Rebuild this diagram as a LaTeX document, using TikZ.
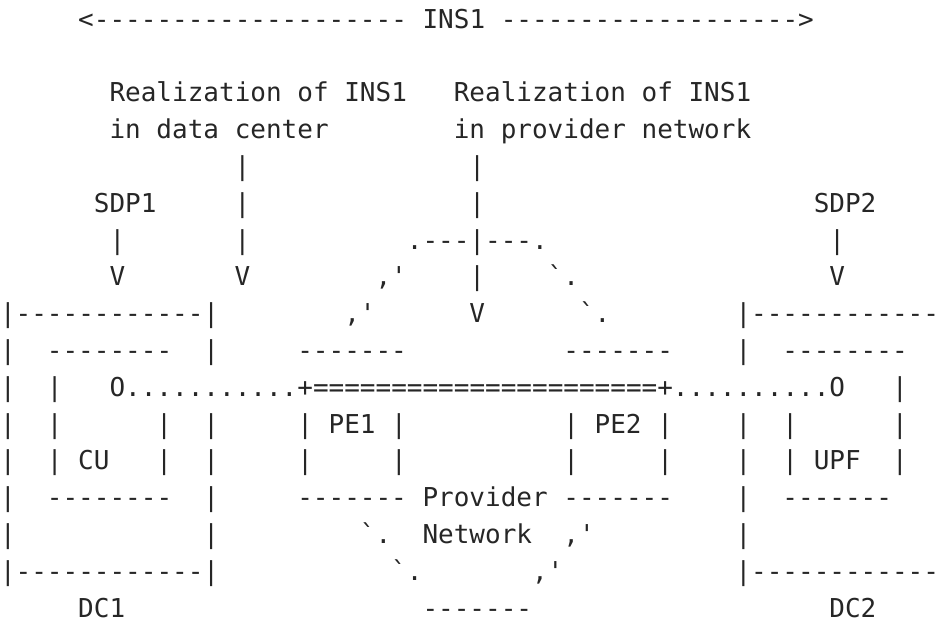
\documentclass[tikz,border=0pt]{standalone}
\usepackage{fontspec}
\setmonofont{DejaVu Sans Mono}
\usetikzlibrary{positioning}
\definecolor{ink}{RGB}{38,38,38}
\tikzset{txt/.style={inner sep=0pt, outer sep=0pt, anchor=base west, text=ink,
	font=\ttfamily\fontsize{13bp}{18.4bp}\selectfont}}
% one piece of the figure: name, column, row, text
\newcommand{\chr}[4]{\node[txt] (#1) at (#2,#3+.77) {#4};}

\begin{document}
\begin{tikzpicture}[x=7.825bp, y=-18.4bp]
	\useasboundingbox (0,0) rectangle (60.26,16.93);
	% slice span
	\chr{ins}{5}{0}{<-------------------- INS1 ------------------->}
	% realization labels
	\chr{realdc}{7}{2}{Realization of INS1}
	\chr{realpn}{29}{2}{Realization of INS1}
	\chr{realdcb}{7}{3}{in data center}
	\chr{realpnb}{29}{3}{in provider network}
	\chr{dcpA}{15}{4}{|}
	\chr{pnpA}{30}{4}{|}
	\chr{sdpa}{6}{5}{SDP1}
	\chr{dcpB}{15}{5}{|}
	\chr{pnpB}{30}{5}{|}
	\chr{sdpb}{52}{5}{SDP2}
	\chr{sdpapA}{7}{6}{|}
	\chr{dcpC}{15}{6}{|}
	\chr{pnarc}{26}{6}{.---|---.}
	\chr{sdpbpA}{53}{6}{|}
	\chr{sdpaV}{7}{7}{V}
	\chr{dcV}{15}{7}{V}
	\chr{pnlA}{24}{7}{,'}
	\chr{pnpC}{30}{7}{|}
	\chr{pnrA}{35}{7}{`.}
	\chr{sdpbV}{53}{7}{V}
	% top edges
	\chr{dcatop}{0}{8}{|------------|}
	\chr{pnlB}{22}{8}{,'}
	\chr{pnV}{30}{8}{V}
	\chr{pnrB}{37}{8}{`.}
	\chr{dcbtop}{47}{8}{|------------}
	% boxes, upper part
	\chr{dcaLA}{0}{9}{|}
	\chr{cutop}{3}{9}{--------}
	\chr{dcaRA}{13}{9}{|}
	\chr{peatop}{19}{9}{-------}
	\chr{pebtop}{36}{9}{-------}
	\chr{dcbLA}{47}{9}{|}
	\chr{upftop}{50}{9}{--------}
	% path between the functions
	\chr{dcaLB}{0}{10}{|}
	\chr{cuLA}{3}{10}{|}
	\chr{link}{7}{10}{O...........+======================+..........O}
	\chr{upfRA}{57}{10}{|}
	\chr{dcaLC}{0}{11}{|}
	\chr{cuLB}{3}{11}{|}
	\chr{cuRA}{10}{11}{|}
	\chr{dcaRB}{13}{11}{|}
	\chr{pea}{19}{11}{| PE1 |}
	\chr{peb}{36}{11}{| PE2 |}
	\chr{dcbLB}{47}{11}{|}
	\chr{upfLA}{50}{11}{|}
	\chr{upfRB}{57}{11}{|}
	\chr{dcaLD}{0}{12}{|}
	\chr{cu}{3}{12}{| CU}
	\chr{cuRB}{10}{12}{|}
	\chr{dcaRC}{13}{12}{|}
	\chr{peaL}{19}{12}{|}
	\chr{peaR}{25}{12}{|}
	\chr{pebL}{36}{12}{|}
	\chr{pebR}{42}{12}{|}
	\chr{dcbLC}{47}{12}{|}
	\chr{upf}{50}{12}{| UPF}
	\chr{upfRC}{57}{12}{|}
	% boxes, lower part
	\chr{dcaLE}{0}{13}{|}
	\chr{cubot}{3}{13}{--------}
	\chr{dcaRD}{13}{13}{|}
	\chr{prov}{19}{13}{------- Provider -------}
	\chr{dcbLD}{47}{13}{|}
	\chr{upfbot}{50}{13}{-------}
	\chr{dcaLF}{0}{14}{|}
	\chr{dcaRE}{13}{14}{|}
	\chr{pnlC}{23}{14}{`.}
	\chr{net}{27}{14}{Network}
	\chr{pnrC}{36}{14}{,'}
	\chr{dcbLE}{47}{14}{|}
	\chr{dcabot}{0}{15}{|------------|}
	\chr{pnlD}{25}{15}{`.}
	\chr{pnrD}{34}{15}{,'}
	\chr{dcbbot}{47}{15}{|------------}
	% names
	\chr{dca}{5}{16}{DC1}
	\chr{pnbot}{27}{16}{-------}
	\chr{dcb}{53}{16}{DC2}
\end{tikzpicture}
\end{document}
